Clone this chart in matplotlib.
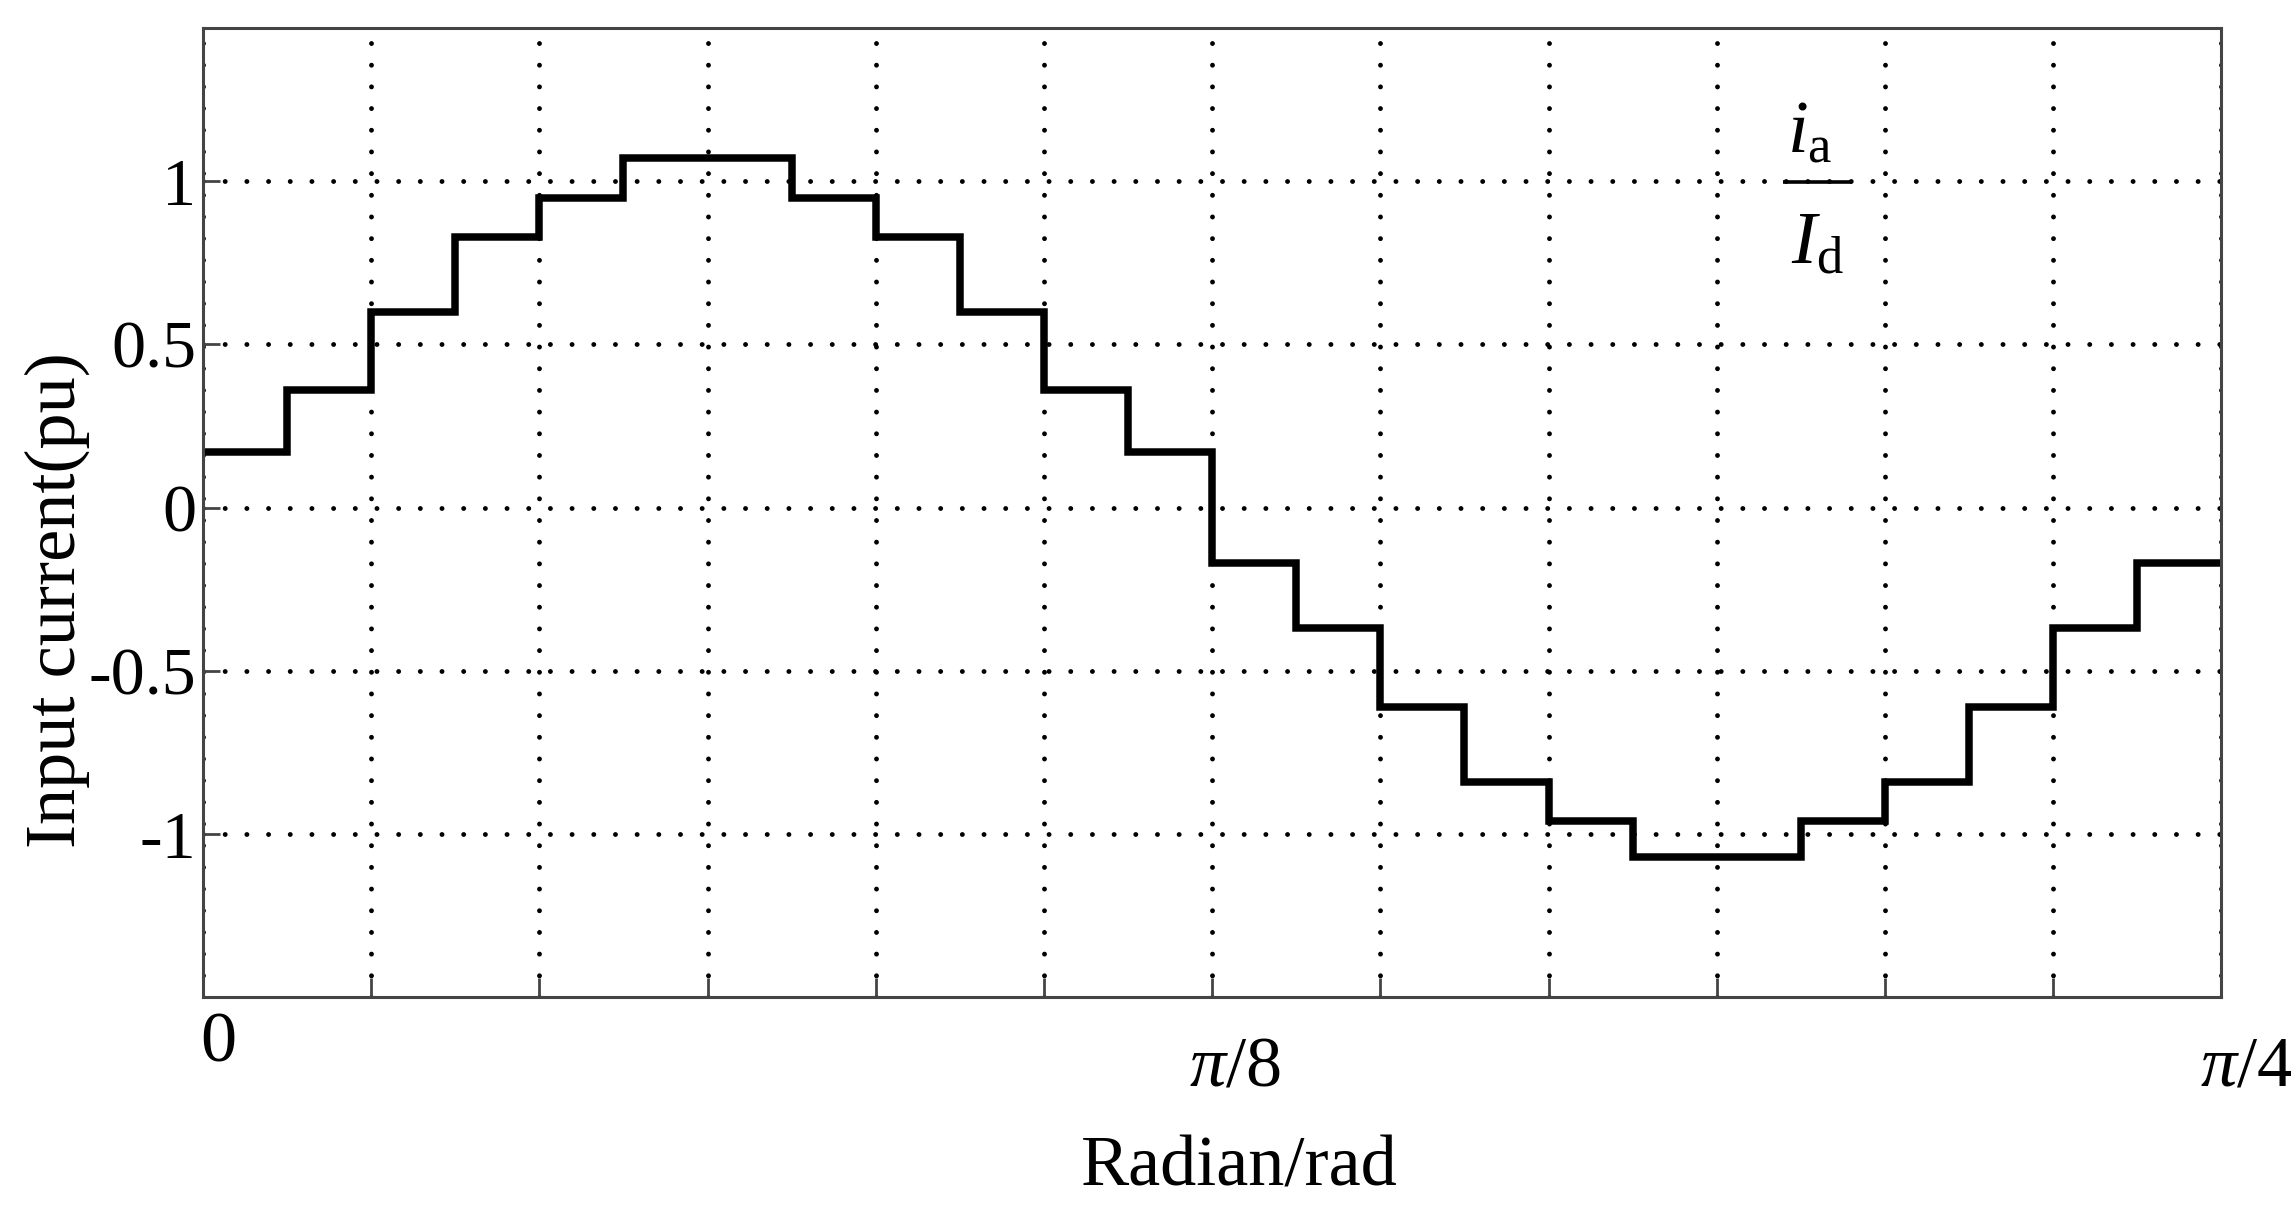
import numpy as np
import matplotlib
matplotlib.use("Agg")
import matplotlib.pyplot as plt
from matplotlib.transforms import blended_transform_factory

plt.rcParams['font.family'] = ['Liberation Serif', 'DejaVu Serif']
plt.rcParams['mathtext.fontset'] = 'custom'
plt.rcParams['mathtext.rm'] = 'Liberation Serif'
plt.rcParams['mathtext.it'] = 'Liberation Serif:italic'

# step levels of i_a/I_d over 0..pi/4 (24 equal intervals)
levels = [0.17, 0.36, 0.60, 0.83, 0.95, 1.07, 1.07, 0.95, 0.83, 0.60, 0.36, 0.17,
          -0.17, -0.37, -0.61, -0.84, -0.96, -1.07, -1.07, -0.96, -0.84, -0.61, -0.37, -0.17]
x_end = np.pi / 4
n_grid = 12
ytick_vals = [-1, -0.5, 0, 0.5, 1]
ytick_labels = ['-1', '-0.5', '0', '0.5', '1']
xlab_vals = [0, np.pi / 8, np.pi / 4]
xlab_text = ['0', r'$\pi$/8', r'$\pi$/4']

edges = np.linspace(0, x_end, len(levels) + 1)
xgrid = np.linspace(0, x_end, n_grid + 1)

fig = plt.figure(figsize=(22.91, 12.06), dpi=100)
ax = fig.add_axes([0.0886, 0.173, 0.881, 0.804])

ax.stairs(levels, edges, color='black', lw=5.4, baseline=None)

ax.set_xlim(0, x_end)
ax.set_ylim(-1.5, 1.47)
ax.set_xticks(xgrid)
ax.set_xticklabels([])
ax.set_yticks(ytick_vals)
ax.set_yticklabels(ytick_labels, fontsize=49)

ax.grid(True, color='black', lw=3.5, linestyle=(0, (0.01, 4.45)),
        dash_capstyle='round')
ax.tick_params(direction='in', color='#444444', width=2, pad=5)
ax.tick_params(axis='x', length=14)
ax.tick_params(axis='y', length=12)
for s in ax.spines.values():
    s.set_color('#444444')
    s.set_linewidth(2.2)

# x tick labels (0 sits higher than the pi labels in the original)
tr = blended_transform_factory(ax.transData, ax.transAxes)
offs = [-0.015, -0.039, -0.039]
dx = [0.006, 0.009, 0.01]
for v, t, o, d in zip(xlab_vals, xlab_text, offs, dx):
    ax.text(v + d, o, t, transform=tr, ha='center', va='top', fontsize=52,
            clip_on=False)

fig.text(0.541, 0.0174, 'Radian/rad', ha='center', va='baseline', fontsize=52)
fig.text(0.025, 0.5025, 'Input current(pu)', rotation=90, ha='center', va='center',
         fontsize=52)

# i_a / I_d fraction label
ax.text(0.796, 0.872, r'$i_\mathrm{a}$', transform=ax.transAxes, ha='center',
        va='baseline', fontsize=54)
ax.plot([0.783, 0.817], [0.841, 0.841], transform=ax.transAxes, color='black',
        lw=2.6, solid_capstyle='butt')
ax.text(0.800, 0.757, r'$I_\mathrm{d}$', transform=ax.transAxes, ha='center',
        va='baseline', fontsize=54)

fig.savefig('out.png', dpi=100, facecolor='white')
